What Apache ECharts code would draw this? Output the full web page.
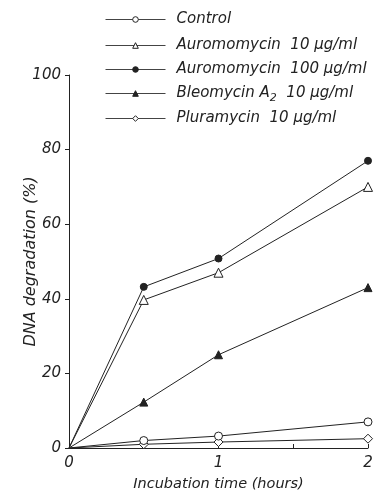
<!DOCTYPE html>
<html><head><meta charset="utf-8">
<script src="https://cdn.jsdelivr.net/npm/echarts@6/dist/echarts.min.js"></script>
<style>html,body{margin:0;padding:0;background:#fff}#c{width:382px;height:494px}</style>
</head><body><div id="c"></div>
<script>
const hours = [0, 0.5, 1, 2];
const control = [0, 2, 3.2, 7];
const auro10 = [0, 39.7, 47, 70];
const auro100 = [0, 43.2, 50.8, 77];
const bleo = [0, 12.3, 25, 43];
const plura = [0, 1, 1.6, 2.5];
const yTicks = [0, 20, 40, 60, 80, 100];
const xTicks = [0, 1, 2];
const names = ['Control', 'Auromomycin  10 μg/ml', 'Auromomycin  100 μg/ml', 'Bleomycin A2  10 μg/ml', 'Pluramycin  10 μg/ml'];

const ink = '#222';
const font = 'DejaVu Sans';
function pts(vals) {
  return vals.map((v, i) => i === 0 ? {value: [hours[i], v], symbol: 'none'} : {value: [hours[i], v]});
}
const specs = [
  {data: control, symbol: 'circle', size: 8, fill: '#fff'},
  {data: auro10, symbol: 'triangle', size: 9, fill: '#fff'},
  {data: auro100, symbol: 'circle', size: 7, fill: ink},
  {data: bleo, symbol: 'triangle', size: 8, fill: ink},
  {data: plura, symbol: 'diamond', size: 9, fill: '#fff'}
];
const series = specs.map((s, i) => ({
  name: names[i], type: 'line', data: pts(s.data),
  symbol: s.symbol, symbolSize: s.size, showAllSymbol: true,
  lineStyle: {color: ink, width: 1},
  itemStyle: {color: s.fill, borderColor: ink, borderWidth: 1},
  emphasis: {disabled: true}, animation: false, z: 5 - i
}));
const legendTops = [7, 33, 57, 81, 106];
const legends = names.map((n, i) => ({
  data: [n], left: 100, top: legendTops[i], itemWidth: 60, itemHeight: 7,
  lineStyle: {width: 1, color: '#444'},
  itemStyle: {borderWidth: 1},
  formatter: function (name) {
    return name.replace('A2', 'A{sub|2}');
  },
  textStyle: {color: ink, fontFamily: font, fontStyle: 'italic', fontSize: 15, padding: [0, 0, 0, 6],
    rich: {sub: {fontFamily: font, fontStyle: 'italic', fontSize: 11, color: ink, padding: [10, 0, 0, 0]}}},
  selectedMode: false
}));
const chart = echarts.init(document.getElementById('c'), null, {renderer: 'canvas'});
chart.setOption({
  backgroundColor: '#fff',
  animation: false,
  legend: legends,
  grid: {left: 69, right: 14, top: 75, bottom: 46, containLabel: false, outerBoundsMode: 'none'},
  xAxis: {
    type: 'value', min: 0, max: 2, interval: 0.5,
    name: 'Incubation time (hours)', nameLocation: 'middle', nameGap: 29, nameMoveOverlap: false,
    nameTextStyle: {color: ink, fontFamily: font, fontStyle: 'italic', fontSize: 14.5},
    axisLine: {lineStyle: {color: ink, width: 1}},
    axisTick: {inside: true, length: 4, lineStyle: {color: ink}},
    axisLabel: {color: ink, fontFamily: font, fontStyle: 'italic', fontSize: 15, margin: 8,
      formatter: v => xTicks.includes(v) ? String(v) : ''},
    splitLine: {show: false}
  },
  yAxis: {
    type: 'value', min: 0, max: 100, interval: 20,
    name: 'DNA degradation (%)', nameLocation: 'middle', nameGap: 30, nameMoveOverlap: false,
    nameTextStyle: {color: ink, fontFamily: font, fontStyle: 'italic', fontSize: 16},
    axisLine: {show: true, lineStyle: {color: ink, width: 1}},
    axisTick: {show: true, length: 4, lineStyle: {color: ink}},
    axisLabel: {color: ink, fontFamily: font, fontStyle: 'italic', fontSize: 15, margin: 8,
      formatter: v => yTicks.includes(v) ? String(v) : ''},
    splitLine: {show: false}
  },
  series: series
});
</script></body></html>
